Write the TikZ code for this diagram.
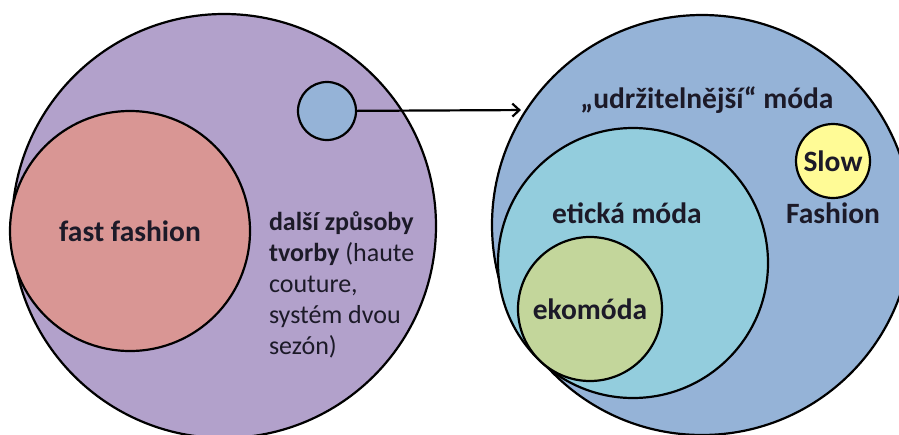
\documentclass[tikz,border=0pt]{standalone}
\usepackage{fontspec}
\setmainfont{Carlito}
\usetikzlibrary{arrows.meta,positioning}

\definecolor{lavender}{HTML}{B2A1CB}
\definecolor{rose}{HTML}{D99694}
\definecolor{skyblue}{HTML}{95B3D7}
\definecolor{aqua}{HTML}{93CDDD}
\definecolor{ecogreen}{HTML}{C3D69B}
\definecolor{paleyellow}{HTML}{FFFB96}
\definecolor{ink}{HTML}{1C1A28}

\begin{document}
\begin{tikzpicture}[x=1pt, y=-1pt,
  set/.style={circle, draw=black, line width=2.2pt, inner sep=0pt, minimum size=#1},
  lbl/.style={text=ink, font=\fontsize{29.5}{35}\selectfont\bfseries},
  note/.style={text=ink, align=left, font=\fontsize{26}{31}\selectfont},
  arrow/.style={line width=2.2pt, -{Straight Barb[length=7pt,width=13pt]}, shorten >=4pt}]
\useasboundingbox (0,0) rectangle (899,434);
% left: ways of making clothes
\node[set=424pt, fill=lavender] (all) at (224,226) {};
\node[set=240pt, fill=rose, lbl] (fast) at (130,231) {fast fashion};
\node[set=58pt, fill=skyblue] (small) at (327,111) {};
\node[note, anchor=north west] (other) at (265.5,208) {\textbf{další způsoby}\\\textbf{tvorby} (haute\\couture,\\systém dvou\\sezón)};
% right: the more sustainable part, blown up
\node[set=420pt, fill=skyblue] (sus) at (702,225) {};
\node[lbl] (susl) at (707,100) {„udržitelnější“ móda};
\node[set=270pt, fill=aqua] (ethic) at (633,263) {};
\node[lbl] (ethicl) at (627,213) {etická móda};
\node[set=144pt, fill=ecogreen, lbl] (eco) at (590,309) {ekomóda};
\node[set=74pt, fill=paleyellow, lbl] (slow) at (833,161) {Slow};
\node[lbl, below=0pt of slow] (fashion) {Fashion};
\draw[arrow] (small) -- (sus.147);
\end{tikzpicture}
\end{document}
